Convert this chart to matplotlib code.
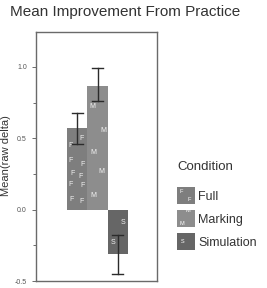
import matplotlib
matplotlib.use("Agg")
import matplotlib.pyplot as plt
from matplotlib.patches import Rectangle
from matplotlib.legend_handler import HandlerPatch
from matplotlib.ticker import MultipleLocator, FormatStrFormatter
import matplotlib.text as mtext

plt.rcParams['font.family'] = ['Liberation Sans', 'DejaVu Sans']

conditions = ["Full", "Marking", "Simulation"]
letters = ["F", "M", "S"]
means = [0.57, 0.87, -0.31]
err_low = [0.46, 0.76, -0.45]
err_high = [0.675, 0.99, -0.18]
colors = ["#7e7e7e", "#8d8d8d", "#666666"]

# letter pattern inside bars: (x offset in bar widths, fraction of bar height)
letter_pattern = {
    0: [(-0.27, 0.12), (0.22, 0.10), (-0.35, 0.31), (0.25, 0.30),
        (-0.22, 0.45), (0.17, 0.41), (-0.32, 0.61), (0.27, 0.56),
        (-0.31, 0.79), (0.22, 0.87)],
    1: [(-0.25, 0.83), (0.28, 0.64), (-0.22, 0.46), (0.18, 0.31), (-0.19, 0.11)],
    2: [(0.24, 0.30), (-0.26, 0.74)],
}

fig = plt.figure(figsize=(2.67, 2.88), dpi=100)
ax = fig.add_axes([36/267, 1-281/288, 121/267, 249/288])

x = list(range(len(conditions)))
ax.bar(x, means, width=1.0, color=colors, edgecolor='none', zorder=2)
for i in x:
    for dx, fy in letter_pattern[i]:
        ax.text(i + dx, means[i] * fy, letters[i], color='white', fontsize=5,
                ha='center', va='center', alpha=0.9, zorder=3)
    ax.plot([i, i], [err_low[i], err_high[i]], color='#2b2b2b', lw=1.0, zorder=4)
    for yv in (err_low[i], err_high[i]):
        ax.plot([i - 0.27, i + 0.27], [yv, yv], color='#2b2b2b', lw=1.0, zorder=4)

ax.set_xlim(-2.03, 3.93)
ax.set_ylim(-0.5, 1.245)
ax.yaxis.set_major_locator(MultipleLocator(0.5))
ax.yaxis.set_minor_locator(MultipleLocator(0.25))
ax.yaxis.set_major_formatter(FormatStrFormatter('%.1f'))
ax.set_xticks([])
ax.tick_params(axis='y', which='major', labelsize=5, labelcolor='#555555',
               color='#555555', length=3, width=0.6)
ax.tick_params(axis='y', which='minor', color='#555555', length=2, width=0.6)
for s in ax.spines.values():
    s.set_color('#6a6a6a')
    s.set_linewidth(1.0)
ax.set_ylabel("Mean(raw delta)", fontsize=8, color='#333333')
ax.yaxis.set_label_coords(-0.21, 0.505)

fig.text(10/267, 1-12/288, "Mean Improvement From Practice", fontsize=11,
         color='#333333', ha='left', va='center')
fig.text(177/267, 1-167/288, "Condition", fontsize=9.5, color='#333333',
         ha='left', va='center')


class LetterHandler(HandlerPatch):
    def __init__(self, letter, positions, **kw):
        super().__init__(**kw)
        self.letter = letter
        self.positions = positions

    def create_artists(self, legend, orig_handle, xdescent, ydescent, width,
                       height, fontsize, trans):
        r = Rectangle((-xdescent, -ydescent), width, height,
                      facecolor=orig_handle.get_facecolor(), edgecolor='none',
                      transform=trans)
        arts = [r]
        for fx, fy in self.positions:
            t = mtext.Text(-xdescent + fx * width, -ydescent + fy * height,
                           self.letter, color='white', fontsize=4,
                           ha='center', va='center', transform=trans)
            arts.append(t)
        return arts


handles = [Rectangle((0, 0), 1, 1, facecolor=c) for c in colors]
pos = [[(0.25, 0.75), (0.7, 0.25)], [(0.3, 0.2), (0.6, 0.95)], [(0.3, 0.5)]]
hmap = {h: LetterHandler(l, p) for h, l, p in zip(handles, letters, pos)}
leg = fig.legend(handles, conditions, loc='upper left',
                 bbox_to_anchor=(172/267, 1-182/288), frameon=False,
                 fontsize=9, handlelength=1.4, borderaxespad=0,
                 handleheight=1.75, handletextpad=0.3, labelspacing=0.45,
                 handler_map=hmap)
for t in leg.get_texts():
    t.set_color('#333333')

fig.savefig("out.png", dpi=100)
